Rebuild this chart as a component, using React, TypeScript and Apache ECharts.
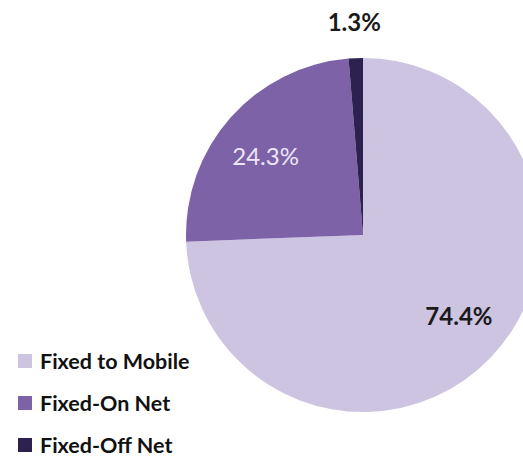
import React, { useEffect, useRef } from "react";
import * as echarts from "echarts";

const categories = ["Fixed to Mobile", "Fixed-On Net", "Fixed-Off Net"];
const values = [74.4, 24.3, 1.3];
const colors = ["#cdc4e1", "#7d62a8", "#2d2150"];

export default function App() {
  const ref = useRef<HTMLDivElement>(null);
  useEffect(() => {
    const chart = echarts.init(ref.current!, null, { renderer: "svg" });
    const labelCfg = [
      { position: "inside", offset: [30, 17], color: "#1a1a1a", fontWeight: "bold" },
      { position: "inside", offset: [-29, -19], color: "#ece6f6", fontWeight: "normal" },
      { position: "inside", offset: [-5, -122], color: "#1a1a1a", fontWeight: "bold" },
    ];
    chart.setOption({
      animation: false,
      backgroundColor: "#ffffff",
      legend: {
        orient: "vertical",
        left: 13,
        top: 345,
        height: 106,
        itemWidth: 14,
        itemHeight: 14,
        itemGap: 20,
        icon: "rect",
        data: categories,
        textStyle: {
          fontFamily: "Lato",
          fontWeight: "bold",
          fontSize: 21.5,
          color: "#111",
          lineHeight: 22,
          padding: [0, 0, 0, 3],
        },
      },
      series: [
        {
          type: "pie",
          center: [363, 235],
          radius: 177,
          startAngle: 90,
          clockwise: true,
          silent: true,
          labelLine: { show: false },
          data: categories.map((name, i) => ({
            name,
            value: values[i],
            itemStyle: { color: colors[i] },
            label: {
              show: true,
              formatter: values[i].toFixed(1) + "%",
              fontFamily: "Lato",
              fontSize: 24,
              ...labelCfg[i],
            },
          })),
        },
      ],
    });
    return () => chart.dispose();
  }, []);
  return <div ref={ref} style={{ width: 523, height: 458, position: "absolute", left: 0, top: 0 }} />;
}
